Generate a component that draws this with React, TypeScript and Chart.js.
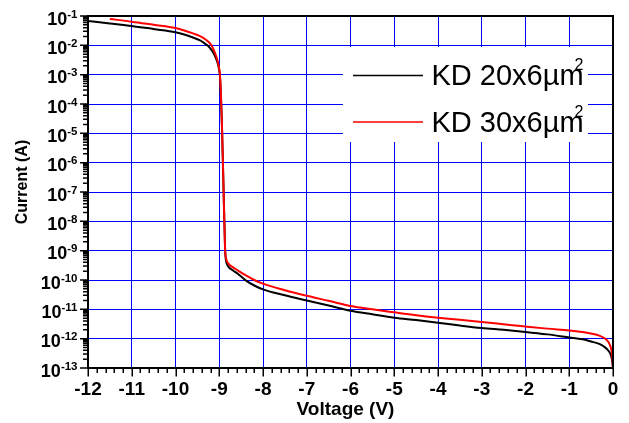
import { useEffect, useRef } from "react";
import { Chart, registerables } from "chart.js";

Chart.register(...registerables);

const FONT = 'Arial, "Liberation Sans", Helvetica, sans-serif';

// KD 20x6µm² (black)
const voltage20 = [-12, -11.5, -11, -10.5, -10, -9.8, -9.6, -9.45, -9.35, -9.28, -9.22, -9.16, -9.1, -9.05, -9.01, -8.985, -8.965, -8.95, -8.935, -8.9, -8.865, -8.85, -8.8, -8.7, -8.57, -8.38, -8.2, -8, -7.5, -7, -6.5, -6, -5.5, -5, -4.5, -4, -3.5, -3, -2.5, -2, -1.5, -1, -0.7, -0.5, -0.3, -0.2, -0.1, -0.05, -0.02, 0];
const current20 = [6.8e-2, 5.6e-2, 4.6e-2, 3.6e-2, 2.8e-2, 2.35e-2, 1.85e-2, 1.5e-2, 1.22e-2, 1.02e-2, 8.4e-3, 6.4e-3, 4.4e-3, 2.9e-3, 1.7e-3, 9e-4, 2.5e-4, 6e-5, 1.2e-5, 1e-7, 1e-9, 5e-10, 3e-10, 2.2e-10, 1.6e-10, 9.3e-11, 6.5e-11, 4.8e-11, 3e-11, 2e-11, 1.35e-11, 9e-12, 6.8e-12, 5.2e-12, 4.3e-12, 3.5e-12, 2.8e-12, 2.3e-12, 2e-12, 1.7e-12, 1.4e-12, 1.1e-12, 9.5e-13, 8e-13, 6.5e-13, 5.3e-13, 3.8e-13, 2.8e-13, 1.8e-13, 1e-13];

// KD 30x6µm² (red)
const voltage30 = [-11.5, -11, -10.5, -10, -9.8, -9.6, -9.45, -9.35, -9.28, -9.22, -9.16, -9.1, -9.05, -9.01, -8.985, -8.965, -8.95, -8.935, -8.9, -8.865, -8.85, -8.8, -8.7, -8.57, -8.38, -8.2, -8, -7.5, -7, -6.5, -6, -5.5, -5, -4.5, -4, -3.5, -3, -2.5, -2, -1.5, -1, -0.7, -0.5, -0.3, -0.2, -0.1, -0.05, -0.02, 0];
const current30 = [7.9e-2, 6.4e-2, 5e-2, 3.9e-2, 3.2e-2, 2.55e-2, 2.1e-2, 1.72e-2, 1.45e-2, 1.2e-2, 9e-3, 5.6e-3, 3.4e-3, 1.9e-3, 1e-3, 2.8e-4, 6.5e-5, 1.3e-5, 1e-7, 1e-9, 6e-10, 3.8e-10, 2.8e-10, 2.1e-10, 1.4e-10, 1e-10, 7.5e-11, 4.5e-11, 2.9e-11, 1.95e-11, 1.3e-11, 1e-11, 7.9e-12, 6.3e-12, 5.2e-12, 4.4e-12, 3.7e-12, 3.1e-12, 2.6e-12, 2.2e-12, 1.9e-12, 1.7e-12, 1.5e-12, 1.25e-12, 1.05e-12, 7.5e-13, 5e-13, 2.8e-13, 1e-13];

const seriesNames = ["KD 20x6µm", "KD 30x6µm"];
const seriesColors = ["#000000", "#ff0000"];
const superscript = "2";

const xMin = -12;
const xMax = 0;
const yExponents = [-13, -12, -11, -10, -9, -8, -7, -6, -5, -4, -3, -2, -1];

const xTitle = "Voltage (V)";
const yTitle = "Current (A)";

const decorPlugin = {
  id: "decor",
  beforeDatasetsDraw(chart: any) {
    const { ctx, chartArea: a } = chart;
    ctx.save();
    // legend box
    ctx.fillStyle = "#ffffff";
    ctx.fillRect(a.left + 255, a.top + 31, 245, 95);
    const rows = [a.top + 69, a.top + 115.5];
    seriesNames.forEach((name, i) => {
      const base = rows[i];
      ctx.strokeStyle = seriesColors[i];
      ctx.lineWidth = 1.5;
      ctx.beginPath();
      ctx.moveTo(a.left + 265, base - 9.5);
      ctx.lineTo(a.left + 335, base - 9.5);
      ctx.stroke();
      ctx.fillStyle = "#000";
      ctx.font = `29px ${FONT}`;
      ctx.textAlign = "left";
      ctx.textBaseline = "alphabetic";
      const tx = a.left + 343.5;
      ctx.fillText(name, tx, base);
      const w = ctx.measureText(name).width;
      ctx.font = `16px ${FONT}`;
      ctx.fillText(superscript, tx + w - 9, base - 15);
    });
    ctx.restore();
  },
  afterDatasetsDraw(chart: any) {
    const { ctx, chartArea: a, scales } = chart;
    const xs = scales.x;
    const ys = scales.y;
    ctx.save();
    // ticks
    ctx.strokeStyle = "#000";
    ctx.lineWidth = 1.5;
    ctx.beginPath();
    for (let k = xMin * 5; k <= xMax * 5; k++) {
      const v = k / 5;
      const px = Math.round(xs.getPixelForValue(v)) + 0.25;
      const major = k % 5 === 0;
      ctx.moveTo(px, a.bottom);
      ctx.lineTo(px, a.bottom + (major ? 8.5 : 5));
    }
    yExponents.forEach((e) => {
      const p = ys.getPixelForValue(Math.pow(10, e));
      ctx.moveTo(a.left, p);
      ctx.lineTo(a.left - 8, p);
      if (e < yExponents[yExponents.length - 1]) {
        for (let m = 2; m <= 9; m++) {
          const pm = ys.getPixelForValue(m * Math.pow(10, e));
          ctx.moveTo(a.left, pm);
          ctx.lineTo(a.left - 5, pm);
        }
      }
    });
    ctx.stroke();
    // frame
    ctx.lineWidth = 2;
    ctx.strokeRect(a.left, a.top, a.right - a.left, a.bottom - a.top);
    // y tick labels 10^e
    ctx.fillStyle = "#000";
    ctx.textBaseline = "alphabetic";
    ctx.textAlign = "right";
    const rightEdge = a.left - 10.5;
    yExponents.forEach((e) => {
      const p = ys.getPixelForValue(Math.pow(10, e));
      const es = String(e);
      ctx.font = `bold 11.5px ${FONT}`;
      const ew = ctx.measureText(es).width;
      ctx.fillText(es, rightEdge, p + 1.5);
      ctx.font = `bold 18px ${FONT}`;
      ctx.fillText("10", rightEdge - ew, p + 8.5);
    });
    // axis titles
    ctx.textAlign = "center";
    ctx.textBaseline = "middle";
    ctx.font = `bold 19px ${FONT}`;
    ctx.fillText(xTitle, (a.left + a.right) / 2 - 5, 410);
    ctx.save();
    ctx.translate(23, (a.top + a.bottom) / 2 - 10);
    ctx.rotate(-Math.PI / 2);
    ctx.font = `bold 16px ${FONT}`;
    ctx.fillText(yTitle, 0, 0);
    ctx.restore();
    ctx.restore();
  },
};

export default function App() {
  const ref = useRef<HTMLCanvasElement | null>(null);
  useEffect(() => {
    if (!ref.current) return;
    const chart = new Chart(ref.current, {
      type: "line",
      data: {
        datasets: [
          {
            label: seriesNames[0],
            data: voltage20.map((v, i) => ({ x: v, y: current20[i] })),
            borderColor: seriesColors[0],
            borderWidth: 2,
            pointRadius: 0,
            cubicInterpolationMode: "monotone",
            order: 1,
          },
          {
            label: seriesNames[1],
            data: voltage30.map((v, i) => ({ x: v, y: current30[i] })),
            borderColor: seriesColors[1],
            borderWidth: 2,
            pointRadius: 0,
            cubicInterpolationMode: "monotone",
            order: 0,
          },
        ],
      },
      options: {
        responsive: false,
        animation: false,
        events: [],
        layout: { padding: { left: 0, right: 16, top: 16, bottom: 0 } },
        plugins: { legend: { display: false }, tooltip: { enabled: false } },
        scales: {
          x: {
            type: "linear",
            min: xMin,
            max: xMax,
            afterFit: (s: any) => {
              s.height = 55;
            },
            border: { display: false },
            grid: { color: "#0000ff", lineWidth: 1, drawTicks: false },
            ticks: {
              stepSize: 1,
              padding: 10,
              color: "#000",
              font: { family: FONT, size: 19, weight: "bold" },
              maxRotation: 0,
            },
          },
          y: {
            type: "logarithmic",
            min: Math.pow(10, yExponents[0]),
            max: Math.pow(10, yExponents[yExponents.length - 1]),
            afterBuildTicks: (s: any) => {
              s.ticks = yExponents.map((e) => ({ value: Math.pow(10, e) }));
            },
            afterFit: (s: any) => {
              s.width = 88;
            },
            border: { display: false },
            grid: { color: "#0000ff", lineWidth: 1, drawTicks: false },
            ticks: { display: false },
          },
        },
      },
      plugins: [decorPlugin],
    } as any);
    return () => chart.destroy();
  }, []);
  return (
    <div style={{ position: "fixed", left: 0, top: 0, width: 629, height: 423, background: "#fff" }}>
      <canvas ref={ref} width={629} height={423} />
    </div>
  );
}
